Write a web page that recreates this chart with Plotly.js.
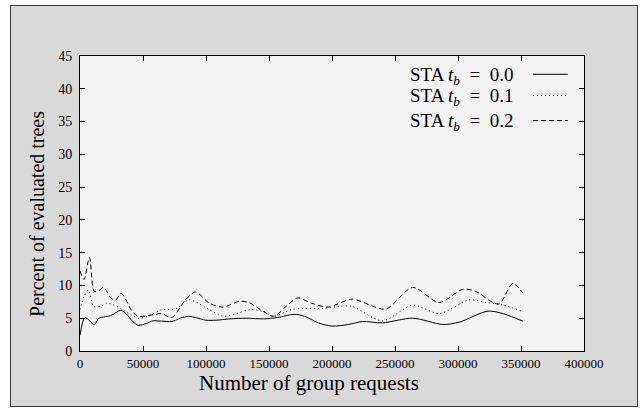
<!DOCTYPE html>
<html>
<head>
<meta charset="utf-8">
<script src="https://cdn.plot.ly/plotly-3.0.1.min.js"></script>
<style>
html,body{margin:0;padding:0;background:#ffffff;}
#frame{position:absolute;left:10px;top:5px;width:626px;height:400px;background:#d9d9d9;border:1px solid #3a3a3a;}
#chart{position:absolute;left:0;top:0;width:642px;height:409px;}
</style>
</head>
<body>
<div id="frame"></div>
<div id="chart"></div>
<script>
// Series: STA t_b = 0.0 (solid)
const x00 = [0, 4000, 11300, 14900, 18900, 24300, 32400, 36500, 41900, 46400, 52700, 58000, 64800, 72900, 79600, 86400, 91800, 99900, 108000, 118800, 132300, 145800, 156600, 170100, 178200, 189000, 200000, 213300, 224000, 240000, 264000, 288000, 301000, 325000, 351600];
const y00 = [2.4, 5.1, 4.05, 5.0, 5.2, 5.4, 6.2, 5.7, 4.5, 3.9, 4.2, 4.6, 4.55, 4.5, 5.0, 5.3, 5.1, 4.7, 4.7, 4.9, 5.0, 4.9, 5.1, 5.6, 5.3, 4.3, 3.8, 4.05, 4.5, 4.3, 5.0, 4.05, 4.4, 6.1, 4.55];
// Series: STA t_b = 0.1 (dotted)
const x01 = [0, 3200, 6800, 10800, 16200, 21600, 27000, 33750, 40500, 46400, 54000, 64800, 75600, 86400, 91800, 102600, 113400, 124200, 135000, 145800, 153900, 167400, 178200, 194400, 205200, 216000, 240000, 264000, 285000, 309000, 322000, 336000, 351600];
const y01 = [6.3, 8.3, 9.3, 6.8, 6.8, 7.3, 7.0, 6.3, 5.5, 5.0, 5.3, 6.3, 6.4, 7.8, 7.5, 6.3, 5.3, 5.7, 6.3, 6.0, 5.3, 6.3, 6.5, 6.5, 6.8, 6.8, 4.6, 7.0, 5.7, 7.8, 7.4, 7.0, 6.0];
// Series: STA t_b = 0.2 (dashed)
const x02 = [0, 3200, 7500, 11300, 14900, 18900, 24300, 28400, 32400, 35100, 40500, 45900, 56700, 64800, 72900, 83700, 91800, 102600, 113400, 126900, 135000, 145800, 153900, 164700, 172800, 183600, 197100, 216000, 242500, 264000, 285000, 303700, 314000, 327700, 333000, 343500, 351600];
const y02 = [12.2, 10.9, 14.3, 9.1, 9.2, 9.7, 8.1, 7.8, 8.8, 8.3, 6.3, 5.3, 5.5, 5.7, 5.1, 7.8, 9.0, 7.3, 6.7, 7.6, 7.3, 6.0, 5.3, 7.0, 8.1, 7.3, 6.7, 7.9, 6.4, 9.7, 7.4, 9.4, 9.1, 7.4, 7.2, 10.3, 8.8];

const NB = "\u00A0";
const SP = NB + NB;
const names = ["STA <i>t</i><sub><i>b</i></sub>" + SP + "=" + SP + "0.0", "STA <i>t</i><sub><i>b</i></sub>" + SP + "=" + SP + "0.1", "STA <i>t</i><sub><i>b</i></sub>" + SP + "=" + SP + "0.2"];
const dashes = ["solid", "1px,3px", "5px,3px"];
const xTicks = [0, 50000, 100000, 150000, 200000, 250000, 300000, 350000, 400000];
const yTicks = [0, 5, 10, 15, 20, 25, 30, 35, 40, 45];

const serif = "Liberation Serif, Times New Roman, serif";
const xs = [x00, x01, x02], ys = [y00, y01, y02];
const traces = xs.map((xx, i) => ({
  x: xx, y: ys[i], type: "scatter", mode: "lines", name: names[i],
  line: {color: "#000000", width: 1, dash: dashes[i], shape: "spline", smoothing: 0.8},
  showlegend: false, hoverinfo: "skip"
}));

const annotations = [
  {text: "Number of group requests", xref: "paper", yref: "paper", x: 0.455, y: -0.11, xanchor: "center", yanchor: "middle", showarrow: false, font: {family: serif, size: 21, color: "#000"}},
  {text: "Percent of evaluated trees", xref: "paper", yref: "paper", x: -0.085, y: 0.465, xanchor: "center", yanchor: "middle", textangle: -90, showarrow: false, font: {family: serif, size: 20, color: "#000"}}
];
const shapes = [];
const legY = [0.932, 0.86, 0.775];
names.forEach((n, i) => {
  annotations.push({text: n, xref: "paper", yref: "paper", x: 0.863, y: legY[i], xanchor: "right", yanchor: "middle", showarrow: false, font: {family: serif, size: 19, color: "#000"}});
  shapes.push({type: "line", xref: "paper", yref: "paper", x0: 0.899, x1: 0.968, y0: legY[i] + 0.006, y1: legY[i] + 0.006, line: {color: "#000", width: 1, dash: dashes[i]}});
});

const layout = {
  width: 642, height: 409,
  margin: {l: 80, r: 58, t: 56, b: 58},
  paper_bgcolor: "rgba(0,0,0,0)",
  plot_bgcolor: "#f3f3f3",
  font: {family: serif, size: 13, color: "#000"},
  xaxis: {range: [0, 400000], tickvals: xTicks, ticktext: xTicks.map(String), ticks: "inside", ticklen: 5, tickcolor: "#000", mirror: "ticks", showline: true, linecolor: "#000", linewidth: 1, showgrid: false, zeroline: false, tickfont: {family: serif, size: 13}},
  yaxis: {range: [0, 45], tickvals: yTicks, ticktext: yTicks.map(String), ticks: "inside", ticklen: 5, tickcolor: "#000", mirror: "ticks", showline: true, linecolor: "#000", linewidth: 1, showgrid: false, zeroline: false, ticklabelstandoff: 4, tickfont: {family: serif, size: 14}},
  annotations: annotations,
  shapes: shapes
};
Plotly.newPlot("chart", traces, layout, {staticPlot: true, displayModeBar: false});
</script>
</body>
</html>
